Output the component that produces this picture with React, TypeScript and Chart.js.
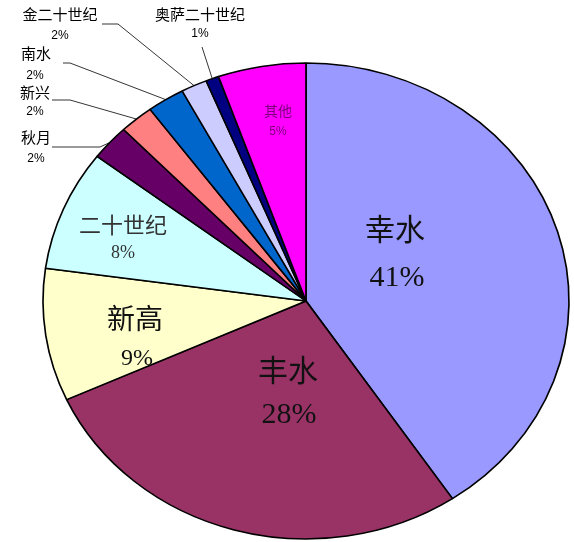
import { useEffect, useRef } from "react"
import { Chart, registerables } from "chart.js"

Chart.register(...registerables)

// pear varieties and their share of the total
const varieties = ["幸水", "丰水", "新高", "二十世纪", "秋月", "新兴", "南水", "金二十世纪", "奥萨二十世纪", "其他"]
const shares = [40.6, 27.6, 9.0, 8.2, 2.4, 2.1, 2.3, 1.6, 0.8, 5.4]
const sliceColors = ["#9999FF", "#993366", "#FFFFCC", "#CCFFFF", "#660066", "#FF8080", "#0066CC", "#CCCCFF", "#000080", "#FF00FF"]

// the pie in the picture is a little wider than tall
const SX = 263 / 238

const serif = '"Liberation Serif", "Noto Sans CJK SC", serif'
const sans = '"Noto Sans CJK SC", "Liberation Sans", sans-serif'

// label placement, offsets from pie centre in px
const insideLabels: Record<string, any> = {
  "幸水": { name: [89, -69], pct: [91, -23], size: [30, 30], color: "#111" },
  "丰水": { name: [-18, 72], pct: [-17, 114], size: [30, 30], color: "#111" },
  "新高": { name: [-171, 21], pct: [-169, 58], size: [28, 24], color: "#111" },
  "二十世纪": { name: [-183, -74], pct: [-183, -48], size: [22, 18], color: "#333" },
  "其他": { name: [-28, -190], pct: [-28, -169], size: [14, 12], color: "#800080" },
}
const outsideLabels: Record<string, any> = {
  "秋月": { name: [-270, -164], pct: [-270, -142], start: [-254, -154], elbow: -206 },
  "新兴": { name: [-271, -209], pct: [-271, -189], start: [-254, -201], elbow: -236 },
  "南水": { name: [-270, -248], pct: [-271, -225], start: [-243, -238], elbow: -236 },
  "金二十世纪": { name: [-246, -287], pct: [-246, -265], start: [-204, -277], elbow: -188 },
  "奥萨二十世纪": { name: [-106, -287], pct: [-106, -267], start: [-104, -254], elbow: null },
}

const pieLabels = {
  id: "pieLabels",
  beforeDatasetsDraw(chart: any) {
    const arc = chart.getDatasetMeta(0).data[0]
    const ctx = chart.ctx
    ctx.save()
    ctx.translate(arc.x, arc.y)
    ctx.scale(SX, 1)
    ctx.translate(-arc.x, -arc.y)
  },
  afterDatasetsDraw(chart: any) {
    const ctx = chart.ctx
    ctx.restore()
    const meta = chart.getDatasetMeta(0)
    const total = shares.reduce((a, b) => a + b, 0)
    ctx.save()
    ctx.textAlign = "center"
    ctx.textBaseline = "middle"
    meta.data.forEach((arc: any, i: number) => {
      const name = varieties[i]
      const pct = Math.round((shares[i] / total) * 100) + "%"
      const cx = arc.x
      const cy = arc.y
      const inL = insideLabels[name]
      if (inL) {
        ctx.fillStyle = inL.color
        ctx.font = `${inL.size[0]}px ${inL.size[0] > 16 ? serif : sans}`
        ctx.fillText(name, cx + inL.name[0], cy + inL.name[1])
        ctx.font = `${inL.size[1]}px ${inL.size[1] > 16 ? serif : '"Liberation Sans", sans-serif'}`
        ctx.fillText(pct, cx + inL.pct[0], cy + inL.pct[1])
        return
      }
      const out = outsideLabels[name]
      if (!out) return
      const mid = (arc.startAngle + arc.endAngle) / 2
      const ex = cx + Math.cos(mid) * arc.outerRadius * SX
      const ey = cy + Math.sin(mid) * arc.outerRadius
      ctx.strokeStyle = "#000"
      ctx.lineWidth = 0.8
      ctx.beginPath()
      ctx.moveTo(cx + out.start[0], cy + out.start[1])
      if (out.elbow !== null) ctx.lineTo(cx + out.elbow, cy + out.start[1])
      ctx.lineTo(ex, ey)
      ctx.stroke()
      ctx.fillStyle = "#000"
      ctx.font = `15px ${sans}`
      ctx.fillText(name, cx + out.name[0], cy + out.name[1])
      ctx.font = '12px "Liberation Sans", sans-serif'
      ctx.fillText(pct, cx + out.pct[0], cy + out.pct[1])
    })
    ctx.restore()
  },
}

export default function App() {
  const chartRef = useRef<HTMLCanvasElement>(null)
  const chartInstance = useRef<Chart | null>(null)

  useEffect(() => {
    document.body.style.margin = "0"
    if (!chartRef.current) return
    if (chartInstance.current) chartInstance.current.destroy()
    const ctx = chartRef.current.getContext("2d")
    if (!ctx) return
    chartInstance.current = new Chart(ctx, {
      type: "pie",
      data: {
        labels: varieties,
        datasets: [
          {
            data: shares,
            backgroundColor: sliceColors,
            borderColor: "#000",
            borderWidth: 1.5,
          },
        ],
      },
      options: {
        responsive: false,
        animation: false,
        radius: 238,
        layout: { padding: { left: 38, right: 0, top: 60, bottom: 0 } },
        plugins: {
          legend: { display: false },
          tooltip: { enabled: false },
        },
      } as any,
      plugins: [pieLabels],
    })
    return () => {
      if (chartInstance.current) {
        chartInstance.current.destroy()
        chartInstance.current = null
      }
    }
  }, [])

  return (
    <div style={{ width: 574, height: 542, background: "#fff" }}>
      <canvas ref={chartRef} width={574} height={542} />
    </div>
  )
}
